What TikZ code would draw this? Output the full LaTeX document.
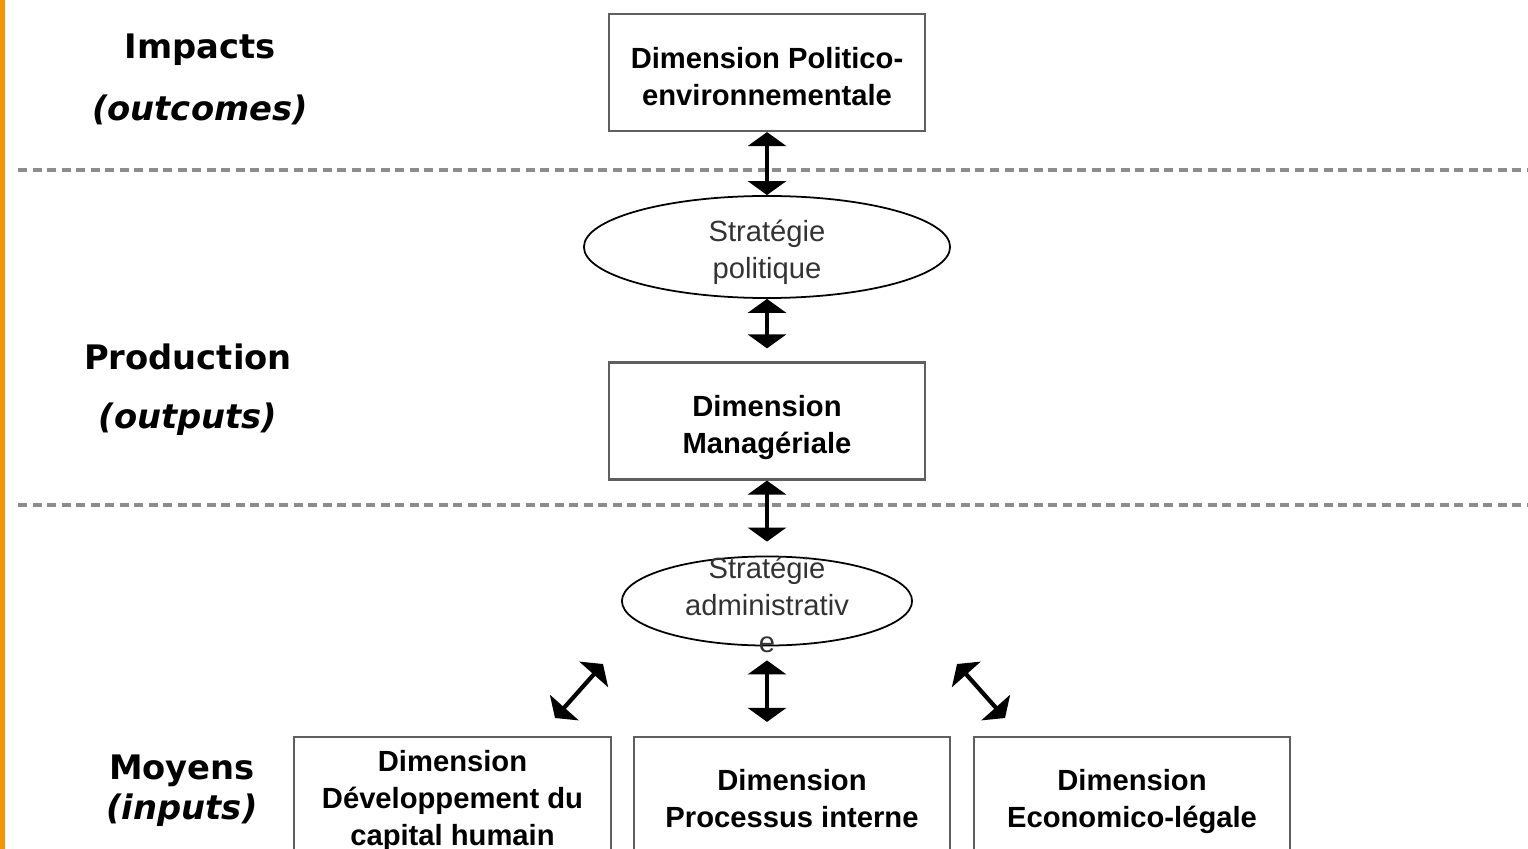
\documentclass[tikz,border=0pt]{standalone}
\usepackage{fontspec}
\setmainfont{Liberation Sans}
\newfontfamily\levelfont{DejaVu Sans}
\usetikzlibrary{arrows.meta,shapes.geometric}
\definecolor{barorange}{RGB}{245,150,0}
\definecolor{boxgray}{RGB}{95,95,95}
\definecolor{dashgray}{RGB}{140,140,140}
\tikzset{
  dimbox/.style={draw=boxgray, line width=0.6pt, minimum width=3.16cm, minimum height=1.17cm,
    align=center, inner sep=0pt, text depth=0pt, font=\fontsize{8.3}{10.5}\selectfont\bfseries},
  strat/.style={draw, ellipse, line width=0.5pt, inner sep=0pt},
  strattext/.style={align=center, inner sep=0pt, text=black!80, font=\fontsize{8.3}{10.5}\selectfont},
  level/.style={inner sep=0pt, font=\levelfont\fontsize{9.6}{11}\selectfont\bfseries},
  dblarrow/.style={line width=1.2pt,
    {Triangle[width=0.38cm,length=0.14cm]}-{Triangle[width=0.38cm,length=0.14cm]}},
  sep/.style={dashgray, line width=1pt, dash pattern=on 0.09cm off 0.055cm}
}
\begin{document}
\begin{tikzpicture}[x=0.01cm, y=-0.01cm]
  \useasboundingbox (0,0) rectangle (1528,849);
  \clip (0,0) rectangle (1528,849);
  % orange edge
  \fill[barorange] (0,0) rectangle (5,849);
  % level separators
  \foreach \y in {170,505} {
    \draw[sep] (18,\y) -- (1528,\y);
  }
  % level labels
  \node[level] (impacts) at (200,50) {Impacts};
  \node[level] (outcomes) at (200,110) {\itshape (outcomes)};
  \node[level] (production) at (188,357) {Production};
  \node[level] (outputs) at (188,419) {\itshape (outputs)};
  \node[level] (moyens) at (182,771) {Moyens};
  \node[level] (inputs) at (182,810) {\itshape (inputs)};

  % dimensions and strategies
  \node[dimbox] (polenv) at (767,72.5) {\rule{0pt}{8.3pt}Dimension Politico-\\environnementale};
  \node[strat, minimum width=3.66cm, minimum height=1.02cm] (polstrat) at (767,247) {};
  \node[strattext] (polstrat-txt) at (767,252) {Stratégie\\politique};
  \node[dimbox] (manag) at (767,421) {\rule{0pt}{7.7pt}Dimension\\Managériale};
  \node[strat, minimum width=2.9cm, minimum height=0.89cm] (admstrat) at (767,601) {};
  \node[strattext] (admstrat-txt) at (767,605) {Stratégie\\administrativ\\e};
  \node[dimbox, minimum height=1.22cm] (capital) at (452.5,798) {Dimension\\Développement du\\capital humain};
  \node[dimbox, minimum height=1.22cm] (process) at (792,798) {Dimension\\Processus interne};
  \node[dimbox, minimum height=1.22cm] (ecolegal) at (1132,798) {Dimension\\Economico-légale};

  % free ends of the slanted arrows
  \coordinate (capital-end) at (555,718);
  \coordinate (capital-top) at (603,664);
  \coordinate (ecolegal-top) at (957,664);
  \coordinate (ecolegal-end) at (1005,718);

  \draw[dblarrow] (polenv.south) -- (polstrat.north);
  \draw[dblarrow, shorten >=0.13cm] (polstrat.south) -- (manag.north);
  \draw[dblarrow, shorten >=0.14cm] (manag.south) -- (admstrat.north);
  \draw[dblarrow, shorten <=0.14cm, shorten >=0.14cm] (admstrat.south) -- (admstrat.south |- process.north);
  \draw[dblarrow] (capital-end) -- (capital-top);
  \draw[dblarrow] (ecolegal-top) -- (ecolegal-end);
\end{tikzpicture}
\end{document}
